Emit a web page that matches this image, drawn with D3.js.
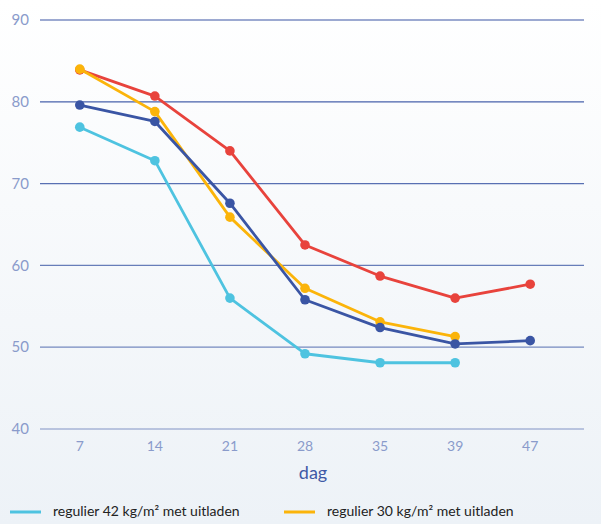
<!DOCTYPE html>
<html>
<head>
<meta charset="utf-8">
<script src="https://cdn.jsdelivr.net/npm/d3@7"></script>
<style>
  body { margin: 0; overflow: hidden; }
  svg { display: block; font-family: Lato, "Open Sans", sans-serif; }
</style>
</head>
<body>
<div id="chart"></div>
<script>
var days = ["7", "14", "21", "28", "35", "39", "47"]
var yTicks = [40, 50, 60, 70, 80, 90]

// null = no measurement
var regulier42Met = [76.9, 72.8, 56.0, 49.2, 48.1, 48.1, null]
var regulier30Met = [84.0, 78.8, 65.9, 57.2, 53.1, 51.3, null]
var regulier42Zonder = [83.9, 80.7, 74.0, 62.5, 58.7, 56.0, 57.7]
var regulier30Zonder = [79.6, 77.6, 67.6, 55.8, 52.4, 50.4, 50.8]

var seriesNames = [
    "regulier 42 kg/m² met uitladen",
    "regulier 30 kg/m² met uitladen",
    "regulier 42 kg/m² zonder uitladen",
    "regulier 30 kg/m² zonder uitladen"
]
var seriesColors = ["#4ec3e0", "#fbb40a", "#e8433c", "#3a55a4"]

var series = [regulier42Met, regulier30Met, regulier42Zonder, regulier30Zonder].map(function(vals, i) {
    return {
        name: seriesNames[i],
        color: seriesColors[i],
        values: vals.map(function(v, j) { return { day: days[j], value: v } })
    }
})

var width = 601, height = 524
var margin = { left: 40, right: 17, top: 20, bottom: 95 }

var svg = d3.select("#chart").append("svg")
    .attr("width", width)
    .attr("height", height)

var defs = svg.append("defs")
var bg = defs.append("linearGradient")
    .attr("id", "bg")
    .attr("x1", 0).attr("y1", 0).attr("x2", 0).attr("y2", 1)
bg.append("stop").attr("offset", "0%").attr("stop-color", "#ffffff")
bg.append("stop").attr("offset", "100%").attr("stop-color", "#edf2f7")

svg.append("rect")
    .attr("width", width)
    .attr("height", height)
    .attr("fill", "url(#bg)")

// points don't use the full grid width, last category leaves room on the right
var x = d3.scalePoint()
    .domain(days)
    .range([margin.left, 570])
    .padding(0.53)

var y = d3.scaleLinear()
    .domain([40, 90])
    .range([height - margin.bottom, margin.top])

var opacity = d3.scaleLinear().domain([40, 90]).range([0.6, 1])

// grid
svg.append("g")
    .selectAll("line")
    .data(yTicks)
    .enter().append("line")
    .attr("x1", margin.left)
    .attr("x2", width - margin.right)
    .attr("y1", d => y(d))
    .attr("y2", d => y(d))
    .attr("stroke", "#3a55a4")
    .attr("stroke-opacity", d => opacity(d))
    .attr("stroke-width", 1.2)

// y labels
svg.append("g")
    .selectAll("text")
    .data(yTicks)
    .enter().append("text")
    .attr("x", 29)
    .attr("y", d => y(d))
    .attr("dy", "0.35em")
    .attr("text-anchor", "end")
    .attr("fill", "#8a9bcb")
    .attr("font-size", 15)
    .text(d => d)

// x labels
svg.append("g")
    .selectAll("text")
    .data(days)
    .enter().append("text")
    .attr("x", d => x(d))
    .attr("y", y(40) + 22)
    .attr("text-anchor", "middle")
    .attr("fill", "#8a9bcb")
    .attr("font-size", 14)
    .text(d => d)

svg.append("text")
    .attr("x", 313)
    .attr("y", y(40) + 50)
    .attr("text-anchor", "middle")
    .attr("fill", "#3f5aa6")
    .attr("font-size", 18)
    .text("dag")

var line = d3.line()
    .defined(d => d.value != null)
    .x(d => x(d.day))
    .y(d => y(d.value))

var drawOrder = [0, 2, 1, 3]
var g = svg.append("g")
drawOrder.forEach(function(i) {
    var s = series[i]
    var sg = g.append("g")
    sg.append("path")
        .datum(s.values)
        .attr("fill", "none")
        .attr("stroke", s.color)
        .attr("stroke-width", 2.8)
        .attr("stroke-linejoin", "round")
        .attr("d", line)
    sg.selectAll("circle")
        .data(s.values.filter(d => d.value != null))
        .enter().append("circle")
        .attr("cx", d => x(d.day))
        .attr("cy", d => y(d.value))
        .attr("r", 4.8)
        .attr("fill", s.color)
})

// legend, two per row (second row falls below the visible area)
var legend = svg.append("g")
    .selectAll("g")
    .data(series)
    .enter().append("g")
    .attr("transform", (d, i) => "translate(" + (10 + (i % 2) * 274) + "," + (512 + Math.floor(i / 2) * 24) + ")")

legend.append("line")
    .attr("x1", 0).attr("x2", 31)
    .attr("stroke", d => d.color)
    .attr("stroke-width", 3)

legend.append("text")
    .attr("x", 43)
    .attr("dy", "0.3em")
    .attr("fill", "#222")
    .attr("font-size", 14)
    .text(d => d.name)
</script>
</body>
</html>
